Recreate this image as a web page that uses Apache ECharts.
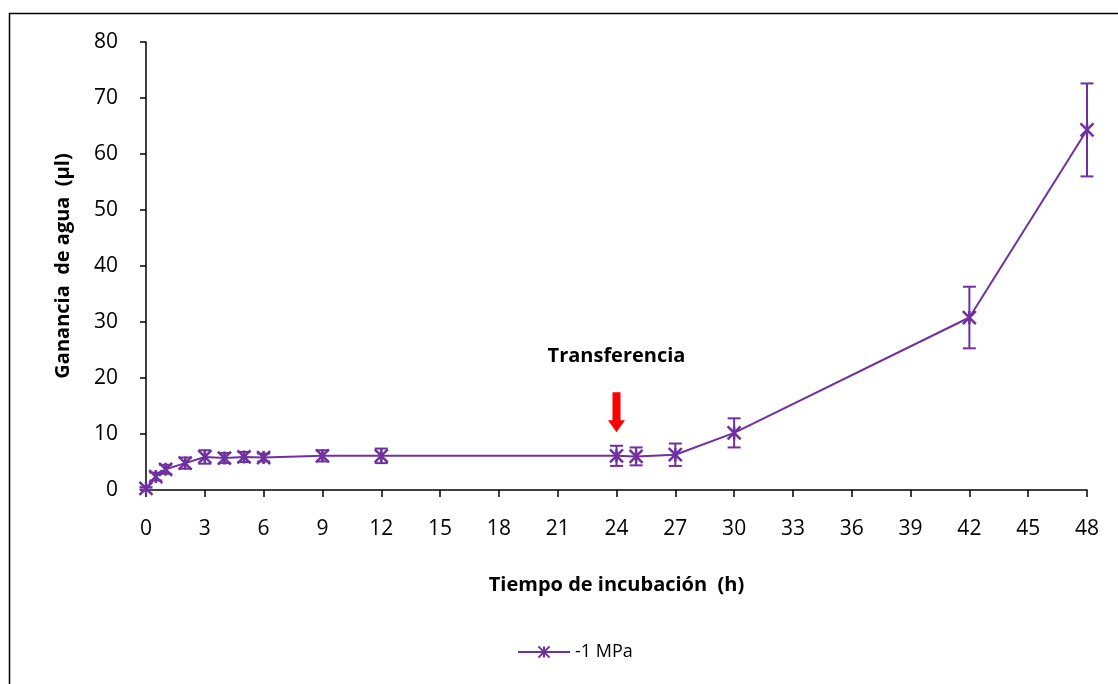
<!DOCTYPE html>
<html><head><meta charset="utf-8">
<script src="https://cdn.jsdelivr.net/npm/echarts@6/dist/echarts.min.js"></script>
<style>html,body{margin:0;padding:0;background:#fff}#c{width:1118px;height:684px}</style>
</head><body><div id="c"></div>
<script>
var hours = [0, 0.5, 1, 2, 3, 4, 5, 6, 9, 12, 24, 25, 27, 30, 42, 48];
var gain  = [0.3, 2.4, 3.7, 4.8, 5.9, 5.7, 5.9, 5.8, 6.1, 6.1, 6.1, 6.0, 6.3, 10.2, 30.8, 64.3];
var errs  = [0.2, 0.7, 0.8, 1.0, 1.2, 0.9, 0.9, 0.7, 1.0, 1.3, 1.8, 1.6, 2.0, 2.6, 5.5, 8.3];
var seriesName = '-1 MPa';
var annotation = {x: 24, y: 13.9, label: 'Transferencia'};

var color = '#7030a0';
var font = '"Open Sans", Lato, sans-serif';
var star = 'path://M0,0L10,10M10,0L0,10M5,0L5,10';
var lineData = hours.map(function(h,i){return [h, gain[i]];});
var errData = hours.map(function(h,i){return [h, gain[i]-errs[i], gain[i]+errs[i]];});

var chart = echarts.init(document.getElementById('c'));
chart.setOption({
  animation:false,
  backgroundColor:'#fff',
  graphic:[{type:'rect', shape:{x:9.5,y:13.5,width:1200,height:800}, style:{fill:'none',stroke:'#000',lineWidth:1.5}, silent:true}],
  grid:{left:146,right:31,top:42,bottom:194},
  legend:{bottom:18,left:512,data:[seriesName],itemWidth:52,itemHeight:14,itemGap:8,
    textStyle:{fontFamily:font,fontSize:18,color:'#000'}},
  xAxis:{type:'value',min:0,max:48,interval:3,
    name:'Tiempo de incubación  (h)',nameLocation:'middle',nameGap:85,
    nameTextStyle:{fontFamily:font,fontSize:20,fontWeight:'bold',color:'#000'},
    axisLine:{lineStyle:{color:'#000',width:1.5}},
    axisTick:{show:true,length:7,lineStyle:{color:'#000',width:1.5}},
    axisLabel:{fontFamily:font,fontSize:21,color:'#000',margin:29},
    splitLine:{show:false}},
  yAxis:{type:'value',min:0,max:80,interval:10,
    name:'Ganancia  de agua  (µl)',nameLocation:'middle',nameGap:73,
    nameTextStyle:{fontFamily:font,fontSize:20,fontWeight:'bold',color:'#000'},
    axisLine:{show:true,lineStyle:{color:'#000',width:1.5}},
    axisTick:{show:true,length:6,lineStyle:{color:'#000',width:1.5}},
    axisLabel:{fontFamily:font,fontSize:21,color:'#000',margin:28},
    splitLine:{show:false}},
  series:[
    {type:'custom',name:'err',data:errData,z:3,silent:true,
     renderItem:function(params,api){
       var x=api.value(0),lo=api.coord([x,api.value(1)]),hi=api.coord([x,api.value(2)]);
       var w=6.5;
       var st={stroke:color,lineWidth:2};
       return {type:'group',children:[
         {type:'line',shape:{x1:lo[0],y1:lo[1],x2:hi[0],y2:hi[1]},style:st},
         {type:'line',shape:{x1:lo[0]-w,y1:lo[1],x2:lo[0]+w,y2:lo[1]},style:st},
         {type:'line',shape:{x1:hi[0]-w,y1:hi[1],x2:hi[0]+w,y2:hi[1]},style:st}
       ]};
     }},
    {type:'line',name:seriesName,data:lineData,z:4,
     symbol:star,symbolSize:13,
     lineStyle:{color:color,width:2},
     itemStyle:{color:'rgba(0,0,0,0)',borderColor:color,borderWidth:2.5},
     markPoint:{silent:true,symbol:'path://M4.5,0L12.5,0L12.5,28L17,28L8.5,40L0,28L4.5,28Z',symbolSize:[17,40],
       itemStyle:{color:'#ff0000'},
       data:[{coord:[annotation.x,annotation.y],
         label:{show:true,position:'top',distance:26,formatter:annotation.label,
           fontFamily:font,fontSize:20,fontWeight:'bold',color:'#000'}}]}}
  ]
});
</script></body></html>
